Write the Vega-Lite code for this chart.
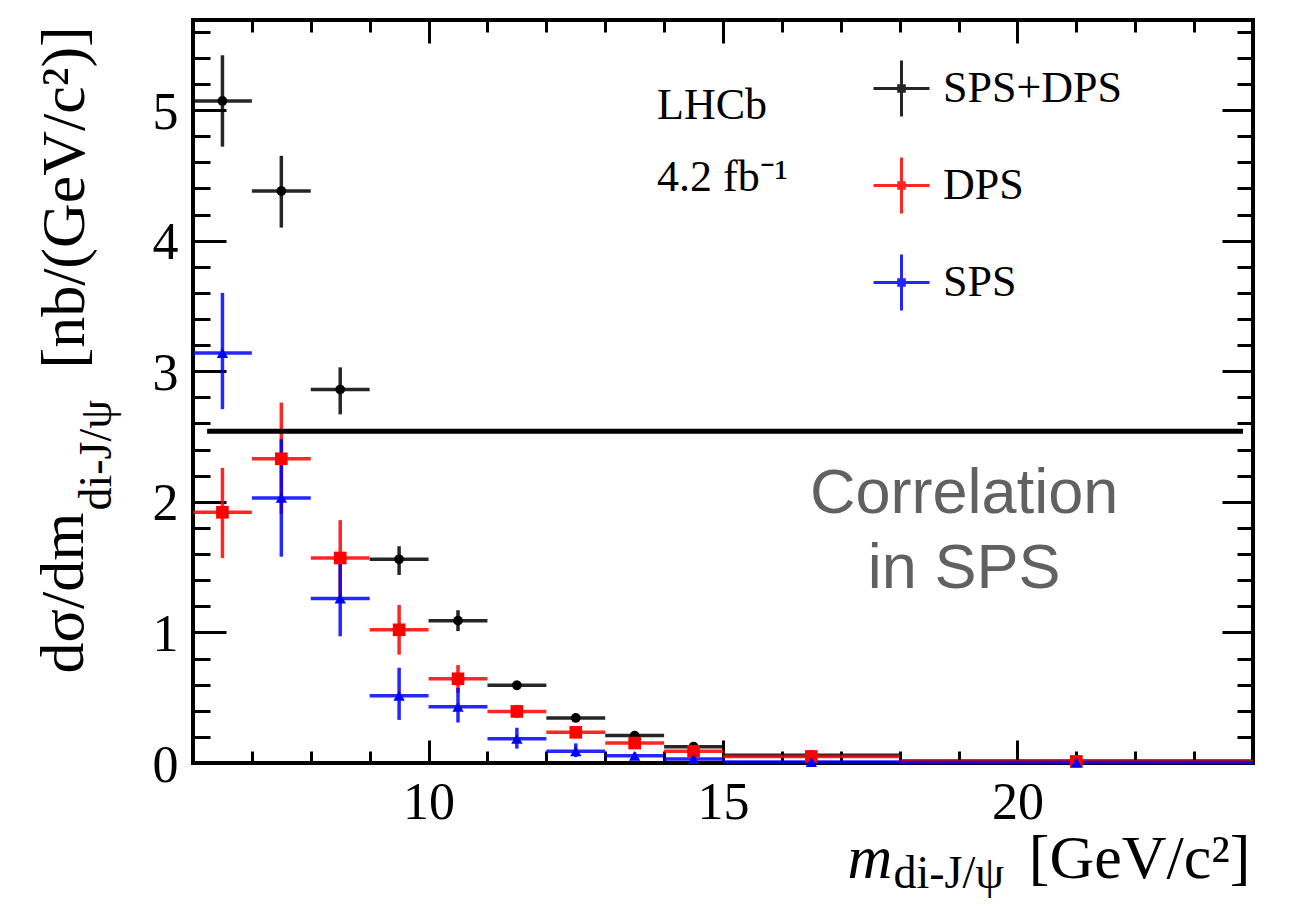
{
  "$schema": "https://vega.github.io/schema/vega-lite/v6.json",
  "width": 1060,
  "height": 743,
  "autosize": {"type": "none"},
  "padding": {"left": 193, "top": 20, "right": 37, "bottom": 156},
  "background": "white",
  "config": {
    "view": {"stroke": "black", "strokeWidth": 4},
    "axis": {
      "domain": false, "grid": false, "tickColor": "black", "tickWidth": 3,
      "labelFont": "Liberation Serif", "titleFont": "Liberation Serif",
      "labelColor": "black", "titleColor": "black", "titleFontWeight": "normal",
      "labelFlush": false, "labelOverlap": false, "labelBound": false
    }
  },
  "datasets": {
    "pts": [
      {"series": "SPS+DPS", "m": 6.5, "xlo": 6, "xhi": 7, "y": 5.07, "ylo": 4.72, "yhi": 5.42},
      {"series": "SPS+DPS", "m": 7.5, "xlo": 7, "xhi": 8, "y": 4.38, "ylo": 4.10, "yhi": 4.65},
      {"series": "SPS+DPS", "m": 8.5, "xlo": 8, "xhi": 9, "y": 2.86, "ylo": 2.67, "yhi": 3.03},
      {"series": "SPS+DPS", "m": 9.5, "xlo": 9, "xhi": 10, "y": 1.56, "ylo": 1.44, "yhi": 1.66},
      {"series": "SPS+DPS", "m": 10.5, "xlo": 10, "xhi": 11, "y": 1.09, "ylo": 1.01, "yhi": 1.17},
      {"series": "SPS+DPS", "m": 11.5, "xlo": 11, "xhi": 12, "y": 0.595, "ylo": 0.56, "yhi": 0.63},
      {"series": "SPS+DPS", "m": 12.5, "xlo": 12, "xhi": 13, "y": 0.345, "ylo": 0.315, "yhi": 0.375},
      {"series": "SPS+DPS", "m": 13.5, "xlo": 13, "xhi": 14, "y": 0.21, "ylo": 0.185, "yhi": 0.235},
      {"series": "SPS+DPS", "m": 14.5, "xlo": 14, "xhi": 15, "y": 0.125, "ylo": 0.105, "yhi": 0.145},
      {"series": "SPS+DPS", "m": 16.5, "xlo": 15, "xhi": 18, "y": 0.06, "ylo": 0.05, "yhi": 0.07},
      {"series": "SPS+DPS", "m": 21, "xlo": 18, "xhi": 24, "y": 0.015, "ylo": 0.01, "yhi": 0.02},
      {"series": "DPS", "m": 6.5, "xlo": 6, "xhi": 7, "y": 1.92, "ylo": 1.57, "yhi": 2.26},
      {"series": "DPS", "m": 7.5, "xlo": 7, "xhi": 8, "y": 2.33, "ylo": 1.91, "yhi": 2.76},
      {"series": "DPS", "m": 8.5, "xlo": 8, "xhi": 9, "y": 1.57, "ylo": 1.28, "yhi": 1.86},
      {"series": "DPS", "m": 9.5, "xlo": 9, "xhi": 10, "y": 1.02, "ylo": 0.83, "yhi": 1.21},
      {"series": "DPS", "m": 10.5, "xlo": 10, "xhi": 11, "y": 0.645, "ylo": 0.54, "yhi": 0.75},
      {"series": "DPS", "m": 11.5, "xlo": 11, "xhi": 12, "y": 0.395, "ylo": 0.345, "yhi": 0.445},
      {"series": "DPS", "m": 12.5, "xlo": 12, "xhi": 13, "y": 0.235, "ylo": 0.195, "yhi": 0.275},
      {"series": "DPS", "m": 13.5, "xlo": 13, "xhi": 14, "y": 0.153, "ylo": 0.125, "yhi": 0.18},
      {"series": "DPS", "m": 14.5, "xlo": 14, "xhi": 15, "y": 0.09, "ylo": 0.07, "yhi": 0.11},
      {"series": "DPS", "m": 16.5, "xlo": 15, "xhi": 18, "y": 0.05, "ylo": 0.04, "yhi": 0.06},
      {"series": "DPS", "m": 21, "xlo": 18, "xhi": 24, "y": 0.012, "ylo": 0.008, "yhi": 0.016},
      {"series": "SPS", "m": 6.5, "xlo": 6, "xhi": 7, "y": 3.14, "ylo": 2.71, "yhi": 3.60},
      {"series": "SPS", "m": 7.5, "xlo": 7, "xhi": 8, "y": 2.03, "ylo": 1.58, "yhi": 2.48},
      {"series": "SPS", "m": 8.5, "xlo": 8, "xhi": 9, "y": 1.26, "ylo": 0.97, "yhi": 1.58},
      {"series": "SPS", "m": 9.5, "xlo": 9, "xhi": 10, "y": 0.515, "ylo": 0.33, "yhi": 0.73},
      {"series": "SPS", "m": 10.5, "xlo": 10, "xhi": 11, "y": 0.43, "ylo": 0.31, "yhi": 0.575},
      {"series": "SPS", "m": 11.5, "xlo": 11, "xhi": 12, "y": 0.185, "ylo": 0.11, "yhi": 0.27},
      {"series": "SPS", "m": 12.5, "xlo": 12, "xhi": 13, "y": 0.09, "ylo": 0.045, "yhi": 0.15},
      {"series": "SPS", "m": 13.5, "xlo": 13, "xhi": 14, "y": 0.055, "ylo": 0.03, "yhi": 0.08},
      {"series": "SPS", "m": 14.5, "xlo": 14, "xhi": 15, "y": 0.03, "ylo": 0.015, "yhi": 0.045},
      {"series": "SPS", "m": 16.5, "xlo": 15, "xhi": 18, "y": 0.008, "ylo": 0.003, "yhi": 0.013},
      {"series": "SPS", "m": 21, "xlo": 18, "xhi": 24, "y": 0.003, "ylo": 0.001, "yhi": 0.005}
    ]
  },
  "data": {"name": "pts"},
  "resolve": {"axis": {"x": "independent", "y": "independent"}},
  "layer": [
    {
      "mark": {"type": "rule", "strokeWidth": 3.5, "opacity": 0.85},
      "encoding": {
        "x": {
          "field": "xlo", "type": "quantitative",
          "scale": {"domain": [6, 24], "nice": false, "zero": false},
          "axis": {
            "orient": "bottom", "values": [10, 15, 20], "ticks": false, "tickSize": 0,
            "labelFontSize": 52, "labelPadding": 55, "labelBaseline": "alphabetic", "labelAlign": "center",
            "title": "[GeV/c²]", "titleFontSize": 62, "titleX": 1057, "titleY": 114,
            "titleAlign": "right", "titleBaseline": "alphabetic", "titleAngle": 0
          }
        },
        "x2": {"field": "xhi"},
        "y": {
          "field": "y", "type": "quantitative",
          "scale": {"domain": [0, 5.69], "nice": false, "zero": false},
          "axis": {
            "orient": "left", "values": [0, 1, 2, 3, 4, 5], "ticks": false, "tickSize": 0,
            "labelFontSize": 52, "labelPadding": 15, "labelBaseline": "middle", "labelAlign": "right", "labelOffset": 2,
            "title": "[nb/(GeV/c²)]", "titleFontSize": 62, "titleX": -110, "titleY": 348,
            "titleAlign": "left", "titleBaseline": "alphabetic", "titleAngle": -90
          }
        },
        "color": {
          "field": "series", "type": "nominal",
          "scale": {"domain": ["SPS+DPS", "DPS", "SPS"], "range": ["#000000", "#ff0000", "#0000ff"]},
          "legend": {
            "orient": "none", "legendX": 679, "legendY": 39, "title": null, "padding": 0,
            "symbolType": "M-1,0H1M0,-1V1M-0.1,-0.1H0.1V0.1H-0.1Z", "symbolSize": 3136, "symbolStrokeWidth": 3,
            "rowPadding": 28, "labelOffset": 12, "labelFont": "Liberation Serif", "labelFontSize": 44,
            "labelColor": "black", "labelBaseline": "middle", "labelLimit": 500
          }
        }
      }
    },
    {
      "mark": {"type": "rule", "strokeWidth": 3.5, "opacity": 0.85},
      "encoding": {
        "x": {
          "field": "m", "type": "quantitative",
          "axis": {
            "orient": "bottom", "values": [10, 15, 20], "tickSize": -23, "labels": false,
            "title": "m", "titleFontSize": 62, "titleFontStyle": "italic", "titleX": 654, "titleY": 114,
            "titleAlign": "left", "titleBaseline": "alphabetic", "titleAngle": 0
          }
        },
        "y": {
          "field": "ylo", "type": "quantitative",
          "axis": {
            "orient": "left", "values": [0, 1, 2, 3, 4, 5], "tickSize": -33, "labels": false,
            "title": "dσ/dm", "titleFontSize": 62, "titleX": -111, "titleY": 653,
            "titleAlign": "left", "titleBaseline": "alphabetic", "titleAngle": -90
          }
        },
        "y2": {"field": "yhi"},
        "color": {"field": "series", "type": "nominal"}
      }
    },
    {
      "transform": [{"filter": "datum.series === 'SPS+DPS'"}],
      "mark": {"type": "point", "filled": true, "opacity": 1, "shape": "circle", "size": 95, "color": "#000000"},
      "encoding": {
        "x": {
          "field": "m", "type": "quantitative",
          "axis": {
            "orient": "bottom", "values": [7, 8, 9, 11, 12, 13, 14, 16, 17, 18, 19, 21, 22, 23], "tickSize": -12, "labels": false,
            "title": "di-J/ψ", "titleFontSize": 46, "titleX": 700, "titleY": 124,
            "titleAlign": "left", "titleBaseline": "alphabetic", "titleAngle": 0
          }
        },
        "y": {
          "field": "y", "type": "quantitative",
          "axis": {
            "orient": "left", "values": [0.2, 0.4, 0.6, 0.8, 1.2, 1.4, 1.6, 1.8, 2.2, 2.4, 2.6, 2.8, 3.2, 3.4, 3.6, 3.8, 4.2, 4.4, 4.6, 4.8, 5.2, 5.4, 5.6],
            "tickSize": -17, "labels": false,
            "title": "di-J/ψ", "titleFontSize": 46, "titleX": -83, "titleY": 490,
            "titleAlign": "left", "titleBaseline": "alphabetic", "titleAngle": -90
          }
        }
      }
    },
    {
      "transform": [{"filter": "datum.series === 'DPS'"}],
      "mark": {"type": "point", "filled": true, "opacity": 1, "shape": "square", "size": 160, "color": "#ff0000"},
      "encoding": {
        "x": {"field": "m", "type": "quantitative", "axis": null},
        "y": {"field": "y", "type": "quantitative", "axis": null}
      }
    },
    {
      "transform": [{"filter": "datum.series === 'SPS'"}],
      "mark": {"type": "point", "filled": true, "opacity": 1, "shape": "triangle-up", "size": 130, "color": "#0000ff"},
      "encoding": {
        "x": {"field": "m", "type": "quantitative", "axis": null},
        "y": {"field": "y", "type": "quantitative", "axis": null}
      }
    },
    {
      "data": {"values": [{}]},
      "mark": {"type": "rule", "strokeWidth": 5, "color": "black"},
      "encoding": {
        "x": {
          "datum": 6.24, "type": "quantitative",
          "axis": {"orient": "top", "values": [10, 15, 20], "tickSize": -23, "labels": false, "title": null}
        },
        "x2": {"datum": 23.83},
        "y": {
          "datum": 2.54, "type": "quantitative",
          "axis": {"orient": "right", "values": [1, 2, 3, 4, 5], "tickSize": -31, "labels": false, "title": null}
        }
      }
    },
    {
      "data": {"values": [{}]},
      "mark": {"type": "text", "font": "Liberation Serif", "fontSize": 44, "align": "left", "baseline": "alphabetic", "color": "black"},
      "encoding": {
        "x": {
          "datum": 13.88, "type": "quantitative",
          "axis": {"orient": "top", "values": [7, 8, 9, 11, 12, 13, 14, 16, 17, 18, 19, 21, 22, 23], "tickSize": -12, "labels": false, "title": null}
        },
        "y": {
          "datum": 4.93, "type": "quantitative",
          "axis": {
            "orient": "right", "values": [0.2, 0.4, 0.6, 0.8, 1.2, 1.4, 1.6, 1.8, 2.2, 2.4, 2.6, 2.8, 3.2, 3.4, 3.6, 3.8, 4.2, 4.4, 4.6, 4.8, 5.2, 5.4, 5.6],
            "tickSize": -16, "labels": false, "title": null
          }
        },
        "text": {"value": "LHCb"}
      }
    },
    {
      "data": {"values": [{}]},
      "mark": {"type": "text", "font": "Liberation Serif", "fontSize": 44, "align": "left", "baseline": "alphabetic", "color": "black"},
      "encoding": {
        "x": {"datum": 13.88, "type": "quantitative", "axis": null},
        "y": {"datum": 4.38, "type": "quantitative", "axis": null},
        "text": {"value": "4.2 fb⁻¹"}
      }
    },
    {
      "data": {"values": [{}]},
      "mark": {"type": "text", "font": "Liberation Sans", "fontSize": 63, "align": "center", "baseline": "alphabetic", "color": "#616161", "lineHeight": 75},
      "encoding": {
        "x": {"datum": 19.095, "type": "quantitative", "axis": null},
        "y": {"datum": 1.918, "type": "quantitative", "axis": null},
        "text": {"value": ["Correlation", "in SPS"]}
      }
    }
  ]
}
